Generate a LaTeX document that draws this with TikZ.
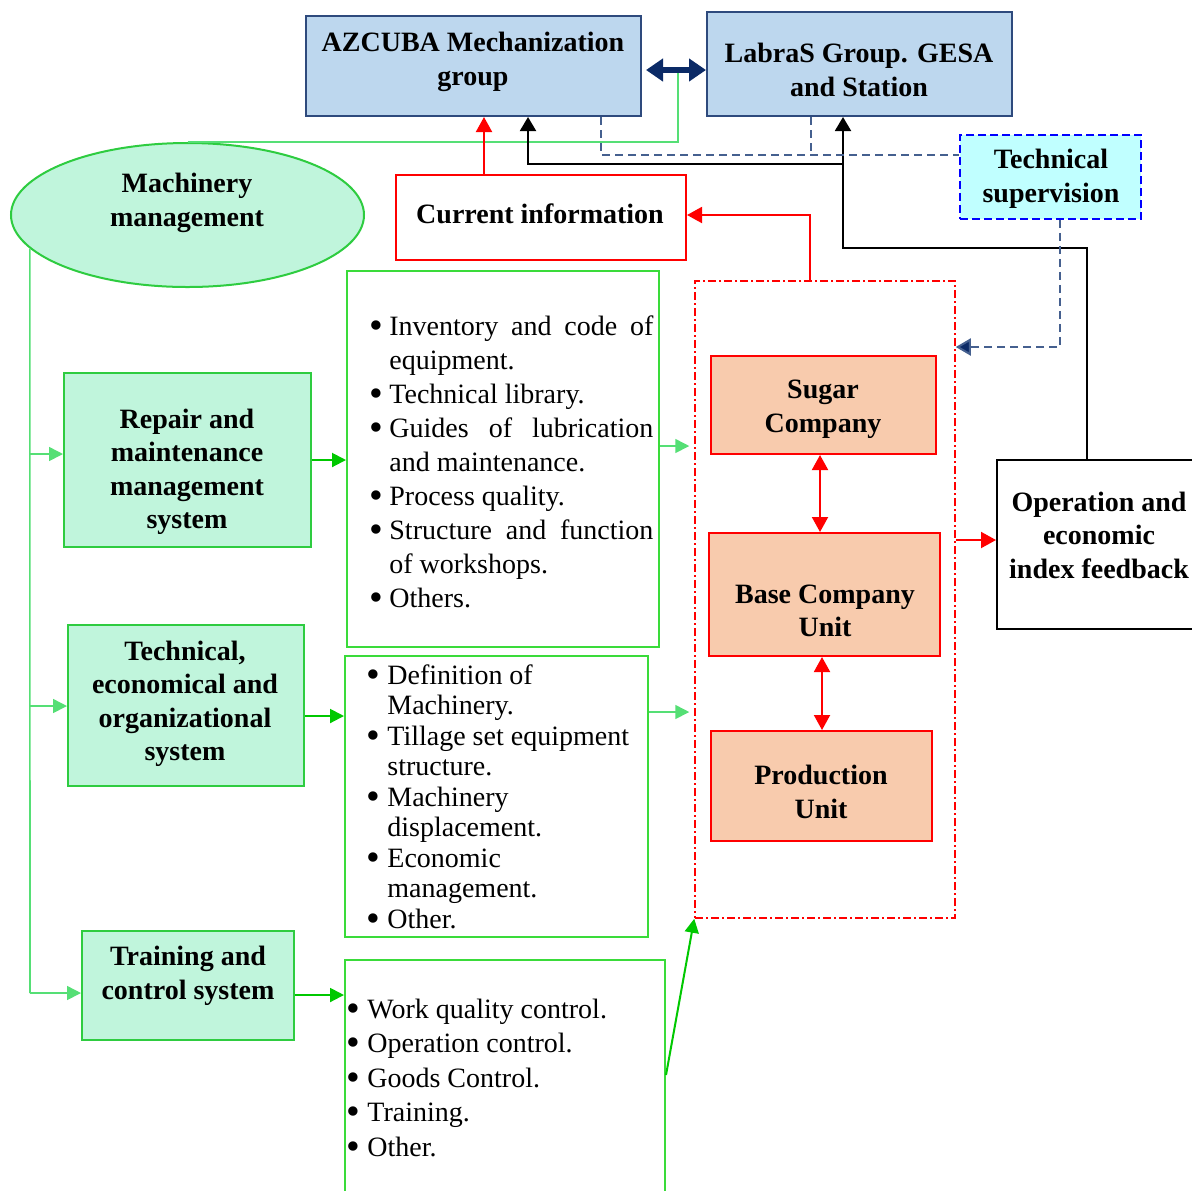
\documentclass[tikz,border=0pt]{standalone}
\usepackage{fontspec}
\setmainfont{Liberation Serif}
\usetikzlibrary{arrows.meta,fit,shapes.geometric,calc}

\definecolor{boxblue}{HTML}{BDD7EE}
\definecolor{boxnavy}{HTML}{2E4A7D}
\definecolor{arrnavy}{HTML}{0B2A66}
\definecolor{dashnavy}{HTML}{45608F}
\definecolor{mint}{HTML}{C0F5DC}
\definecolor{boxgreen}{HTML}{2ECC40}
\definecolor{listgreen}{HTML}{3ADB3A}
\definecolor{lightgreen}{HTML}{55DF75}
\definecolor{arrgreen}{HTML}{00C800}
\definecolor{salmon}{HTML}{F8CBAD}
\definecolor{skycyan}{HTML}{C0FFFF}

% list bullet, a little larger than the text bullet
\newcommand{\lbul}{\smash{\raisebox{-1.5pt}{\scalebox{1.4}{\textbullet}}}}

\begin{document}
\begin{tikzpicture}[x=0.5pt,y=-0.5pt,
  box/.style={draw, line width=1pt, inner sep=0pt},
  bluebox/.style={box, fill=boxblue, draw=boxnavy},
  greenbox/.style={box, fill=mint, draw=boxgreen},
  salmonbox/.style={box, fill=salmon, draw=red},
  listbox/.style={box, fill=white, draw=listgreen},
  plainbox/.style={box, fill=white},
  supbox/.style={box, fill=skycyan, draw=blue, line width=0.8pt, dash pattern=on 4pt off 2pt},
  zone/.style={draw=red, line width=0.75pt, inner sep=0pt, dash pattern=on 4pt off 1.5pt on 1pt off 1.5pt},
  btext/.style={font=\bfseries\fontsize{14}{16.75}\selectfont, align=center, inner sep=0pt},
  ltext/.style={inner sep=0pt, anchor=base west},
  garrow/.style={draw=arrgreen, line width=1pt, -{Triangle[length=7pt,width=7pt]}},
  lgline/.style={draw=lightgreen, line width=0.8pt},
  lgarrow/.style={lgline, -{Triangle[length=7pt,width=7pt]}},
  rarrow/.style={draw=red, line width=1pt, -{Triangle[length=7.5pt,width=8pt]}},
  rdbl/.style={draw=red, line width=1pt, {Triangle[length=7.5pt,width=8pt]}-{Triangle[length=7.5pt,width=8pt]}},
  karrow/.style={draw=black, line width=1pt, -{Triangle[length=7pt,width=8pt]}},
  kline/.style={draw=black, line width=1pt},
  ndash/.style={draw=dashnavy, line width=1pt, dash pattern=on 4pt off 2.5pt},
  ndbl/.style={draw=arrnavy, line width=3pt, {Triangle[length=8.5pt,width=11pt]}-{Triangle[length=8.5pt,width=11pt]}}
]
\useasboundingbox (0,0) rectangle (1192,1190);
\fill[white] (0,0) rectangle (1192,1190);
\clip (0,0) rectangle (1192,1190);

% ---------- boxes ----------
\node (azcuba) [bluebox, fit={(306,16) (641,116)}] {};
\node (labras) [bluebox, fit={(707,12) (1012,116)}] {};
\node (mach) [ellipse, fill=mint, draw=boxgreen, line width=1pt, inner sep=0pt,
  minimum width=176.5pt, minimum height=72pt] at (187.5,215) {};
\node (curinfo) [box, draw=red, fill=white, fit={(396,175) (686,260)}] {};
\node (techsup) [supbox, fit={(960,135) (1141,219)}] {};
\node (zone) [zone, fit={(695,281) (955,918)}] {};
\node (sugar) [salmonbox, fit={(711,356) (936,454)}] {};
\node (basecu) [salmonbox, fit={(709,533) (940,656)}] {};
\node (prod) [salmonbox, fit={(711,731) (932,841)}] {};
\node (oper) [plainbox, fit={(997,460) (1205,629)}] {};
\node (repair) [greenbox, fit={(64,373) (311,547)}] {};
\node (techsys) [greenbox, fit={(68,625) (304,786)}] {};
\node (train) [greenbox, fit={(82,931) (294,1040)}] {};
\node (list1) [listbox, fit={(347,271) (659,647)}] {};
\node (list2) [listbox, fit={(345,656) (648,937)}] {};
\node (list3) [listbox, fit={(345,960) (665,1210)}] {};

% ---------- box titles ----------
\node (azcuba-t) [btext] at (473,62) {AZCUBA Mechanization\\group};
\node (labras-t) [btext] at (859,70) {LabraS Group. GESA\\and Station};
\node (mach-t) [btext] at (187,203) {Machinery\\management};
\node (curinfo-t) [btext] at (540,214) {Current information};
\node (techsup-t) [btext] at (1051,179) {Technical\\supervision};
\node (sugar-t) [btext] at (823,409) {Sugar\\Company};
\node (basecu-t) [btext] at (825,611) {Base Company\\Unit};
\node (prod-t) [btext] at (821,792) {Production\\Unit};
\node (oper-t) [btext] at (1099,535) {Operation and\\economic\\index feedback};
\node (repair-t) [btext] at (187,472) {Repair and\\maintenance\\management\\system};
\node (techsys-t) [btext] at (185,704) {Technical,\\economical and\\organizational\\system};
\node (train-t) [btext] at (188,976) {Training and\\control system};

% ---------- bullet lists ----------
\node (list1-t) [ltext] at (369,335) {\fontsize{14}{17.05}\selectfont
  \begin{tabular}[t]{@{}l@{}l@{}}
  \makebox[10pt][l]{\lbul} & \makebox[132pt][s]{Inventory and code of}\\
  & equipment.\\
  \lbul & Technical library.\\
  \lbul & \makebox[132pt][s]{Guides of lubrication}\\
  & and maintenance.\\
  \lbul & Process quality.\\
  \lbul & \makebox[132pt][s]{Structure and function}\\
  & of workshops.\\
  \lbul & Others.
  \end{tabular}};
\node (list2-t) [ltext] at (366,684) {\fontsize{14}{15.25}\selectfont
  \begin{tabular}[t]{@{}l@{}l@{}}
  \makebox[10.5pt][l]{\lbul} & Definition of\\
  & Machinery.\\
  \lbul & Tillage set equipment\\
  & structure.\\
  \lbul & Machinery\\
  & displacement.\\
  \lbul & Economic\\
  & management.\\
  \lbul & Other.
  \end{tabular}};
\node (list3-t) [ltext] at (346,1018) {\fontsize{14}{17.25}\selectfont
  \begin{tabular}[t]{@{}l@{}l@{}}
  \makebox[10.5pt][l]{\lbul} & Work quality control.\\
  \lbul & Operation control.\\
  \lbul & Goods Control.\\
  \lbul & Training.\\
  \lbul & Other.
  \end{tabular}};

% ---------- junction points ----------
\coordinate (dbl) at (678,70);
\coordinate (rx) at (484,0);
\coordinate (kx) at (528,0);
\coordinate (kj) at (843,164);
\coordinate (ko) at (1087,248);
\coordinate (da) at (601,155);
\coordinate (db) at (811,155);
\coordinate (dc) at (1060,347);
\coordinate (rz) at (810,215);
\coordinate (ro) at (975,540);
\coordinate (ru1) at (820,0);
\coordinate (ru2) at (822,0);
\coordinate (ga) at (30,454);
\coordinate (gb) at (30,706);
\coordinate (gc) at (30,993);
\coordinate (la) at (0,460);
\coordinate (lb) at (0,716);
\coordinate (lc) at (0,995);
\coordinate (za) at (0,446);
\coordinate (zb) at (0,712);
\coordinate (zc) at (0,1075);

% ---------- connectors ----------
% machinery management up to the link between the two groups
\draw[lgline] (mach.north) -| (dbl);
\draw[ndbl] (dbl -| azcuba.east) ++(4,0) -- (dbl -| labras.west);

% current information reported up
\draw[rarrow] (rx |- curinfo.north) -- (rx |- azcuba.south);
\draw[rarrow] (rz |- zone.north) -- (rz) -- (rz -| curinfo.east);

% feedback of indices
\draw[kline] (ko |- oper.north) -- (ko) -| (kj);
\draw[karrow] (kj) -- (kj |- labras.south);
\draw[karrow] (kj) -| (kx |- azcuba.south);

% technical supervision
\draw[ndash] (da |- azcuba.south) -- (da) -- (da -| techsup.west);
\draw[ndash] (db |- labras.south) -- (db);
\draw[ndash, -{Triangle[length=7.5pt,width=8.5pt,fill=arrnavy]}] (dc |- techsup.south) -- (dc) -- (dc -| zone.east);

% company chain
\draw[rdbl] (ru1 |- sugar.south) -- (ru1 |- basecu.north);
\draw[rdbl] (ru2 |- basecu.south) -- (ru2 |- prod.north);
\draw[rarrow] (ro -| zone.east) -- (ro -| oper.west);

% machinery management to its three systems
\draw[lgline] (mach.192) -- (gc);
\draw[lgarrow] (ga) -- (ga -| repair.west);
\draw[lgarrow] (gb) -- (gb -| techsys.west);
\draw[lgarrow] (gc) -- (gc -| train.west);

% systems to their contents
\draw[garrow] (la -| repair.east) -- (la -| list1.west);
\draw[garrow] (lb -| techsys.east) -- (lb -| list2.west);
\draw[garrow] (lc -| train.east) -- (lc -| list3.west);

% contents to the company zone
\draw[lgarrow] (za -| list1.east) -- ([xshift=-2.5pt]za -| zone.west);
\draw[lgarrow] (zb -| list2.east) -- ([xshift=-2.5pt]zb -| zone.west);
\draw[garrow] (zc -| list3.east) -- (zone.south west);
\end{tikzpicture}
\end{document}
